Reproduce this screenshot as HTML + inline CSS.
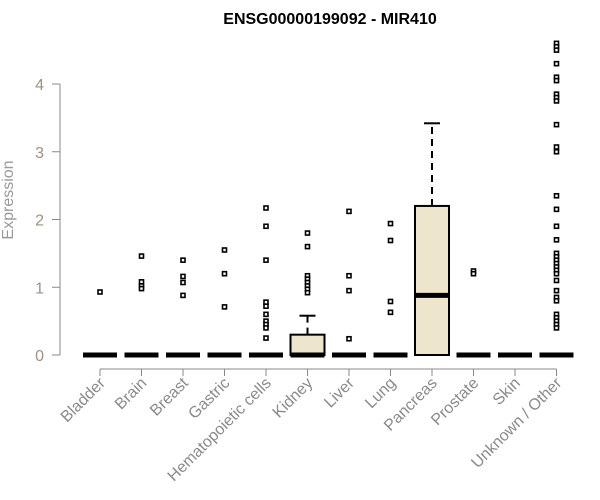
<!DOCTYPE html>
<html><head><meta charset="utf-8"><style>body{margin:0;background:#fff}svg{display:block}</style></head>
<body>
<svg id="chart" width="600" height="500" xmlns="http://www.w3.org/2000/svg" font-family="Liberation Sans, sans-serif">
<text x="330" y="24" text-anchor="middle" font-weight="bold" font-size="16">ENSG00000199092 - MIR410</text>
<text transform="translate(13,200) rotate(-90)" text-anchor="middle" font-size="16" fill="#999">Expression</text>
<g id="axes"></g>
<g id="boxes"></g>
</svg>
<script>
const categories=["Bladder","Brain","Breast","Gastric","Hematopoietic cells","Kidney","Liver","Lung","Pancreas","Prostate","Skin","Unknown / Other"];
const q1=[0,0,0,0,0,0,0,0,0,0,0,0];
const medians=[0,0,0,0,0,0,0,0,0.88,0,0,0];
const q3=[0,0,0,0,0,0.3,0,0,2.2,0,0,0];
const whiskerHigh=[0,0,0,0,0,0.58,0,0,3.42,0,0,0];
const outliers=[[0.93],[1.46,1.08,1.02,0.98],[1.4,1.16,1.07,0.88],[1.55,1.2,0.71],
[2.17,1.9,1.4,0.78,0.72,0.6,0.5,0.45,0.4,0.25],[1.8,1.6,1.17,1.12,1.07,1.02,0.97,0.92],
[2.12,1.17,0.95,0.24],[1.94,1.69,0.79,0.63],[],[1.24,1.2],[],
[4.6,4.55,4.5,4.3,4.1,4.05,3.85,3.8,3.75,3.4,3.07,3.0,2.35,2.15,1.9,1.7,1.5,1.45,1.4,1.35,1.3,1.25,1.2,1.1,0.95,0.85,0.8,0.6,0.55,0.5,0.45,0.4]];
const yTicks=[0,1,2,3,4];
const NS="http://www.w3.org/2000/svg";
const y=v=>355-v*67.75;
const x=i=>100+i*41.5;
function mk(p,t,a){const e=document.createElementNS(NS,t);for(const k in a)e.setAttribute(k,a[k]);p.appendChild(e);return e;}
const ax=document.getElementById('axes'),bx=document.getElementById('boxes');
const yl=mk(ax,'line',{x1:60,x2:60,y1:y(0),y2:y(4),stroke:'#888'});


yTicks.forEach(t=>{
 const l=mk(ax,'line',{x1:52,x2:60,y1:y(t),y2:y(t),stroke:'#888'});
 
 
 const tx=mk(ax,'text',{x:44,y:y(t)+6,'text-anchor':'end','font-size':16,fill:'#a09080'});
 tx.textContent=t;
 
 
});
const xl=mk(ax,'line',{x1:x(0),x2:x(categories.length-1),y1:369,y2:369,stroke:'#888'});


categories.forEach((c,i)=>{
 const cx=x(i);
 const t=mk(ax,'line',{x1:cx,x2:cx,y1:369,y2:376,stroke:'#888'});
 
 
 const tx=mk(ax,'text',{transform:`translate(${cx+6},${384}) rotate(-45)`,'text-anchor':'end','font-size':16,fill:'#8a8a8a'});
 tx.textContent=c;
 
 
 const g=mk(bx,'g',{});
 
 
 if(whiskerHigh[i]>q3[i]){
  mk(g,'line',{x1:cx,x2:cx,y1:y(q3[i]),y2:y(whiskerHigh[i]),stroke:'#000','stroke-width':2,'stroke-dasharray':'7,5'});
  mk(g,'line',{x1:cx-8,x2:cx+8,y1:y(whiskerHigh[i]),y2:y(whiskerHigh[i]),stroke:'#000','stroke-width':2});
 }
 if(q3[i]>q1[i]) mk(g,'rect',{x:cx-17,y:y(q3[i]),width:34,height:y(q1[i])-y(q3[i]),fill:'#ede6cc',stroke:'#000','stroke-width':2});
 mk(g,'line',{x1:cx-17,x2:cx+17,y1:y(medians[i]),y2:y(medians[i]),stroke:'#000','stroke-width':5});
 outliers[i].forEach(v=>{
  const r=mk(g,'rect',{x:cx-2,y:y(v)-2,width:4,height:4,fill:'#fff',stroke:'#000','stroke-width':1.6});
  
  
 });
});
</script>
</body></html>
